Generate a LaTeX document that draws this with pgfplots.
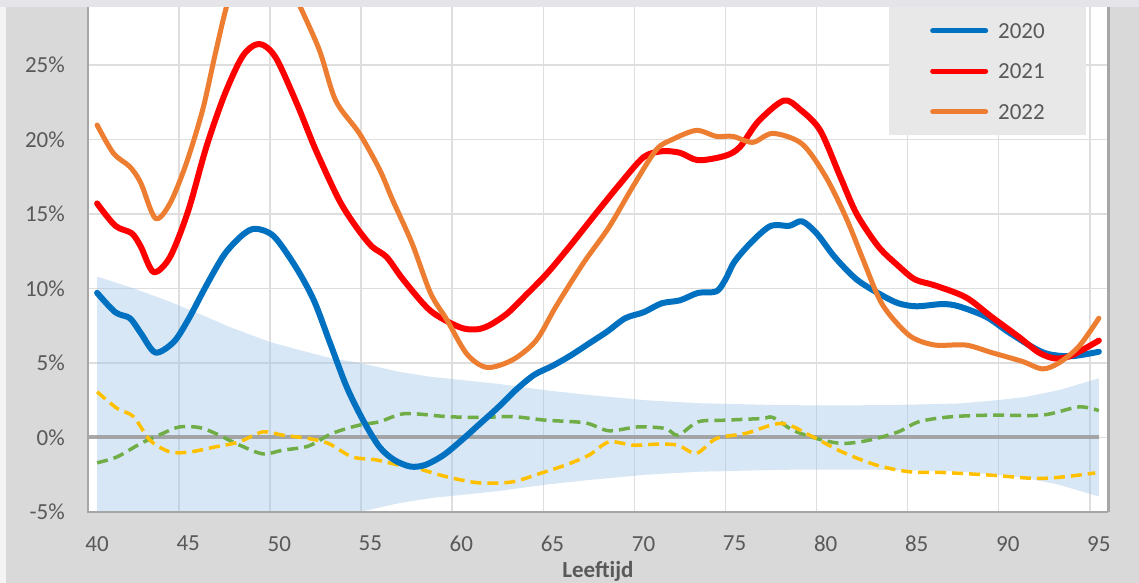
\documentclass[border=0pt]{standalone}
\usepackage{pgfplots}
\usepackage{pgfplotstable}
\pgfplotsset{compat=1.18}
\usepackage{fontspec}
\setmainfont{Carlito}
\definecolor{bgc}{HTML}{D9D9D9}
\definecolor{leftc}{HTML}{F4F4F4}
\definecolor{topc}{HTML}{E4E4E9}
\definecolor{gridc}{HTML}{DEDEDE}
\definecolor{axc}{HTML}{A6A6A6}
\definecolor{txt}{HTML}{595959}
\definecolor{legbg}{HTML}{E8E8E8}
\definecolor{c2020}{HTML}{0070C0}
\definecolor{c2021}{HTML}{FF0000}
\definecolor{c2022}{HTML}{ED7D31}
\definecolor{cgreen}{HTML}{70AD47}
\definecolor{cyellow}{HTML}{FFC000}
\definecolor{band}{HTML}{9DC3E6}
\definecolor{zeroc}{HTML}{9A9A9A}

\pgfplotstableread{
x y
40 9.7
41 8.4
41.8 8.0
42.4 7.0
43.2 5.7
44.2 6.4
45 7.9
46 10.2
47 12.3
48 13.6
48.7 14.0
49.7 13.5
50.9 11.45
51.9 9.2
52.8 6.3
53.7 3.4
54.6 1.16
55.5 -0.63
56.3 -1.5
57.2 -1.95
58 -1.85
59 -1.2
60 -0.2
61 0.9
62 2.0
63 3.2
64 4.2
65 4.8
66 5.5
67 6.3
68 7.1
69 8.0
70 8.4
71 9.0
72 9.2
73 9.7
74 9.8
74.5 10.6
75 11.8
76 13.2
77 14.2
78 14.2
78.7 14.5
79.5 13.7
80.5 12.1
81.7 10.6
83 9.6
84 9.0
85 8.8
86.4 8.95
87.3 8.8
88.8 8.1
90 7.1
91.3 6.1
92.2 5.6
93.5 5.45
95 5.75
}\tA

\pgfplotstableread{
x y
40 15.7
41 14.2
41.9 13.7
42.4 12.8
43.1 11.1
44 12.1
45 15.2
46 19.5
47 23.0
48 25.6
48.9 26.4
49.8 25.5
51 22.3
52 19.3
53.3 15.9
54.3 14.0
55.1 12.8
55.9 12.1
56.8 10.6
58.3 8.5
59.9 7.4
60.8 7.25
61.5 7.5
62.5 8.3
63.5 9.5
64.7 11.0
66 12.9
67.5 15.2
68.7 17.0
70 18.8
71 19.2
72 19.1
73 18.6
74.5 18.9
75.3 19.5
76.3 21.2
77.7 22.6
78.6 22.0
79.7 20.6
80.8 17.5
81.7 15.0
82.9 12.8
84 11.5
84.9 10.6
86 10.2
87.7 9.4
89.1 8.1
90.6 6.75
91.7 5.7
92.6 5.3
93.5 5.5
95 6.5
}\tB

\pgfplotstableread{
x y
40 20.96
40.9 19.06
41.8 18.16
42.4 17.07
43.2 14.7
44 15.7
44.9 18.4
45.8 22.0
46.5 25.8
47.2 29.3
48 31.5
49 32.5
50 32
51 29.3
52.2 26.0
53.1 22.6
54.4 20.4
55.5 18.0
56.2 16.0
57.3 13.0
58.3 9.7
59.2 7.9
60.3 5.6
61.4 4.7
62.8 5.2
64.1 6.5
65.2 8.8
66.7 11.7
68.1 14.1
69.4 16.8
70.7 19.3
71.6 20.0
72.9 20.6
74.0 20.2
74.9 20.2
76.0 19.8
77.1 20.4
78.7 19.7
80.0 17.5
81.1 14.8
82.0 12.1
82.9 9.4
83.6 8.1
84.7 6.75
86.0 6.2
87.7 6.2
89.1 5.7
90.8 5.1
91.9 4.6
92.8 5.0
93.9 6.1
95.0 8.0
}\tC

\pgfplotstableread{
x y
40 -1.7
41.1 -1.3
42.4 -0.4
43.6 0.27
44.5 0.7
45.6 0.67
46.5 0.27
47.8 -0.5
49.1 -1.1
50.2 -0.85
51.6 -0.58
52.9 0.27
54.4 0.83
55.5 1.05
56.9 1.6
59.2 1.4
61 1.34
62.8 1.4
64.6 1.16
66.8 0.98
68.1 0.45
69.7 0.71
71.2 0.6
71.9 0.15
73 1.05
74.5 1.16
76.5 1.27
77.1 1.34
78.2 0.49
79.5 -0.07
80.9 -0.4
82.4 -0.18
84 0.38
85.1 1.05
86.8 1.38
89.1 1.5
91.9 1.5
93.9 2.05
95 1.8
}\tG

\pgfplotstableread{
x y
40 3.06
41.1 1.95
42 1.4
42.9 -0.18
44 -0.97
45.1 -0.97
46.5 -0.63
47.8 -0.3
49.1 0.38
50.2 0.15
51.6 -0.07
52.7 -0.4
54 -1.3
55.3 -1.5
56.6 -1.86
57.3 -1.97
59.2 -2.64
61 -3.05
62.8 -2.98
64.3 -2.42
65.7 -1.86
67 -1.19
68.1 -0.3
69.4 -0.52
70.8 -0.45
71.9 -0.52
72.9 -1.07
74 -0.07
75.6 0.27
77.6 0.94
79.3 0.04
80.9 -0.97
82.8 -1.86
84.6 -2.3
86.4 -2.35
89.1 -2.53
91.5 -2.75
93.1 -2.64
94.8 -2.38
}\tY

\pgfplotstableread{
x y
40 10.8
42 10.0
43.8 9.2
45.6 8.3
47.3 7.4
49.5 6.4
51 5.9
52.9 5.3
54.4 5.0
56.6 4.4
58.3 4.07
62 3.6
64.6 3.17
67 2.85
70.1 2.5
73 2.3
77.5 2.17
80 2.15
83.6 2.17
87.3 2.28
89 2.45
90.9 2.7
92.8 3.17
95 3.96
95 -3.96
92.8 -3.17
90.9 -2.7
89 -2.45
87.3 -2.28
83.6 -2.17
80 -2.15
77.5 -2.17
73 -2.3
70.1 -2.5
67 -2.85
64.6 -3.17
62 -3.6
58.3 -4.07
56.6 -4.4
54.4 -5.0
52.9 -5.3
51 -5.9
49.5 -6.4
47.3 -7.4
45.6 -8.3
43.8 -9.2
42 -10.0
40 -10.8
}\tBand

\begin{document}
\begin{tikzpicture}[x=1bp,y=1bp]
\fill[bgc] (0,0) rectangle (1139,583);
\fill[leftc] (0,0) rectangle (6,583);
\path[use as bounding box] (0,0) rectangle (1139,583);
\begin{axis}[
  at={(88bp,71bp)}, anchor=south west,
  scale only axis, width=1020bp, height=505bp,
  xmin=39.5, xmax=95.5, ymin=-5, ymax=28.88,
  axis background/.style={fill=white},
  axis line style={draw=none},
  xtick={39.5,44.5,49.5,54.5,59.5,64.5,69.5,74.5,79.5,84.5,89.5,94.5},
  xticklabels={40,45,50,55,60,65,70,75,80,85,90,95},
  ytick={-5,0,5,10,15,20,25},
  yticklabel={\pgfmathprintnumber{\tick}\%},
  /pgf/number format/assume math mode=true,
  grid=major,
  major grid style={draw=gridc, line width=1.6bp},
  major tick length=0pt,
  tick label style={font=\fontsize{23bp}{27bp}\selectfont, text=txt},
  xticklabel style={anchor=north, inner sep=0pt, yshift=-24bp, xshift=9.12bp},
  yticklabel style={anchor=east, inner sep=0pt, xshift=-23bp},
  xlabel={Leeftijd},
  xlabel style={font=\fontsize{23bp}{27bp}\selectfont\bfseries, text=txt,
     at={(axis description cs:0.5,0)}, anchor=north, inner sep=0pt, yshift=-49.5bp},
  legend style={at={(axis description cs:0.7853,1)}, anchor=north west,
     fill=legbg, draw=none, inner xsep=41bp, inner ysep=16bp,
     row sep=25.5bp, column sep=10bp,
     nodes={inner sep=0pt, text height=15bp, text depth=0pt,
            font=\fontsize{23bp}{27bp}\selectfont, text=txt}},
  legend cell align=left,
  legend image code/.code={\draw[#1, line width=5bp] (0bp,0bp) -- (53bp,0bp);},
]
\addplot[forget plot, draw=none, fill=band, fill opacity=0.4] table[x=x,y=y] {\tBand} -- cycle;
\addplot[forget plot, zeroc, line width=4bp, opacity=0.85] coordinates {(39.5,0) (95,0)};
\addplot[forget plot, cgreen, line width=3.5bp, dash pattern=on 11bp off 6bp, smooth] table[x=x,y=y] {\tG};
\addplot[forget plot, cyellow, line width=3.5bp, dash pattern=on 11bp off 6bp, smooth] table[x=x,y=y] {\tY};
\addplot[c2020, line width=6bp, smooth, line join=round, line cap=round] table[x=x,y=y] {\tA};
\addplot[c2021, line width=6bp, smooth, line join=round, line cap=round] table[x=x,y=y] {\tB};
\addplot[c2022, line width=5bp, smooth, line join=round, line cap=round] table[x=x,y=y] {\tC};
\legend{2020,2021,2022}
\end{axis}
\fill[topc] (0,576) rectangle (1139,583);
\draw[axc, line width=2bp] (88,576) -- (88,71) -- (1108,71);
\draw[axc, line width=3bp] (1108,71) -- (1108,576);
\end{tikzpicture}
\end{document}
